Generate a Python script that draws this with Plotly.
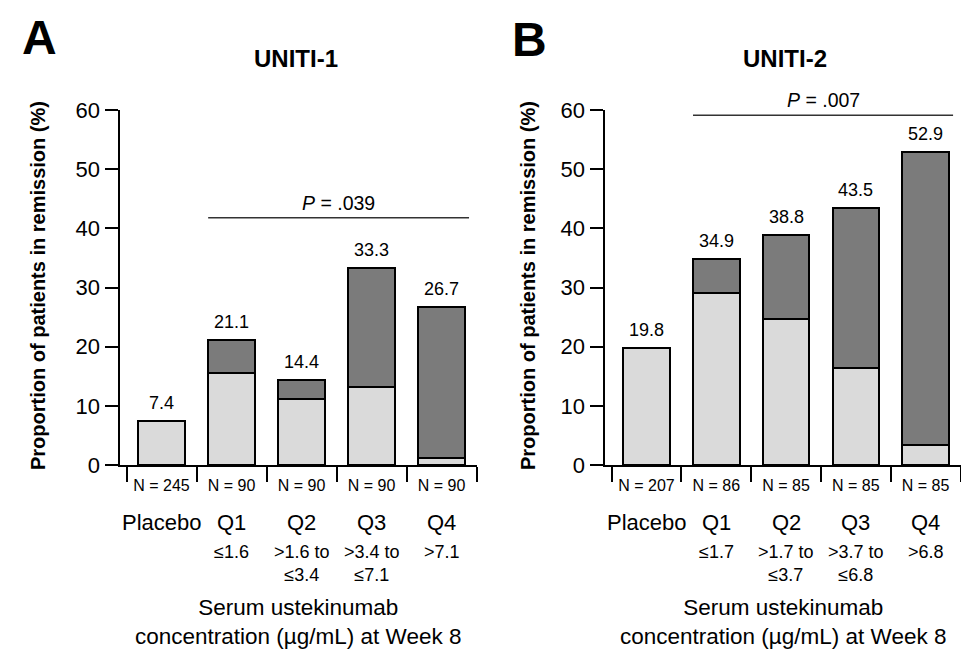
import plotly.graph_objects as go

# ---------------- data ----------------
categories = ["Placebo", "Q1", "Q2", "Q3", "Q4"]

# UNITI-1
a_totals = [7.4, 21.1, 14.4, 33.3, 26.7]
a_light = [7.4, 15.5, 11.1, 13.2, 1.1]
a_n = ["N = 245", "N = 90", "N = 90", "N = 90", "N = 90"]
a_ranges = ["", "≤1.6", ">1.6 to<br>≤3.4", ">3.4 to<br>≤7.1", ">7.1"]
a_p_text = "<i>P</i> = .039"
a_p_level = 41.8

# UNITI-2
b_totals = [19.8, 34.9, 38.8, 43.5, 52.9]
b_light = [19.8, 29.1, 24.7, 16.4, 3.4]
b_n = ["N = 207", "N = 86", "N = 85", "N = 85", "N = 85"]
b_ranges = ["", "≤1.7", ">1.7 to<br>≤3.7", ">3.7 to<br>≤6.8", ">6.8"]
b_p_text = "<i>P</i> = .007"
b_p_level = 59.1

y_ticks = [0, 10, 20, 30, 40, 50, 60]

# ---------------- style ----------------
OFF = 8                      # default page body margin
W, H = 969 - OFF, 653 - OFF  # figure size so it fills the window
FONT = "Liberation Sans, Arial, Helvetica, sans-serif"
LIGHT = "#dadada"
DARK = "#7b7b7b"
BAR_W = 0.667

def px_x(p):
    return (p - OFF) / W

def px_y(p):
    return 1 - (p - OFF) / H

fig = go.Figure()

panels = [
    dict(xa="x", ya="y", xname="xaxis", yname="yaxis", totals=a_totals, light=a_light,
         n=a_n, ranges=a_ranges, p=a_p_text, plev=a_p_level,
         dom=[px_x(119.5), px_x(476.5)], title="UNITI-1", tcx=296, letter="A", lcx=39, lcy=37,
         ytx=38),
    dict(xa="x2", ya="y2", xname="xaxis2", yname="yaxis2", totals=b_totals, light=b_light,
         n=b_n, ranges=b_ranges, p=b_p_text, plev=b_p_level,
         dom=[px_x(604.5), px_x(960.5)], title="UNITI-2", tcx=785, letter="B", lcx=529, lcy=39,
         ytx=528),
]

ydom = [px_y(465), px_y(110)]

annotations = []
shapes = []

def txt(size):
    return dict(size=size, color="black", family=FONT)

for pn in panels:
    dark = [None if t - l <= 0.05 else round(t - l, 2) for t, l in zip(pn["totals"], pn["light"])]
    fig.add_trace(go.Bar(
        x=categories, y=pn["light"], xaxis=pn["xa"], yaxis=pn["ya"], width=BAR_W,
        marker=dict(color=LIGHT, line=dict(color="black", width=2)),
        showlegend=False, hoverinfo="skip"))
    fig.add_trace(go.Bar(
        x=categories, y=dark, xaxis=pn["xa"], yaxis=pn["ya"], width=BAR_W,
        marker=dict(color=DARK, line=dict(color="black", width=2)),
        showlegend=False, hoverinfo="skip"))

    fig.update_layout(**{
        pn["xname"]: dict(
            domain=pn["dom"], anchor=pn["ya"], type="category",
            categoryorder="array", categoryarray=categories,
            tickmode="array", tickvals=categories, ticktext=pn["n"],
            tickson="boundaries", ticks="outside", ticklen=15, tickwidth=2,
            tickcolor="black", showline=True, linecolor="black", linewidth=2,
            tickfont=txt(16), automargin=False, ticklabelstandoff=5,
            showgrid=False, zeroline=False, fixedrange=True),
        pn["yname"]: dict(
            domain=ydom, anchor=pn["xa"], range=[0, 60],
            tickmode="array", tickvals=y_ticks,
            ticks="outside", ticklen=13, tickwidth=2, tickcolor="black",
            showline=True, linecolor="black", linewidth=2,
            tickfont=txt(22), automargin=False,
            showgrid=False, zeroline=False, fixedrange=True),
    })

    # value labels
    for c, t in zip(categories, pn["totals"]):
        annotations.append(dict(x=c, y=t, xref=pn["xa"], yref=pn["ya"], text=f"{t:.1f}",
                                showarrow=False, xanchor="center", yanchor="middle", yshift=18,
                                font=txt(18)))
    # category names and ranges
    for i, c in enumerate(categories):
        annotations.append(dict(x=c, y=px_y(522), xref=pn["xa"], yref="paper", text=c,
                                showarrow=False, xanchor="center", yanchor="middle",
                                font=txt(22)))
        if pn["ranges"][i]:
            annotations.append(dict(x=c, y=px_y(540), xref=pn["xa"], yref="paper",
                                    text=pn["ranges"][i], showarrow=False,
                                    xanchor="center", yanchor="top", font=txt(18)))
    # x-axis title
    annotations.append(dict(x=0.5, y=px_y(622), xref=pn["xa"] + " domain", yref="paper",
                            text="Serum ustekinumab<br>concentration (µg/mL) at Week 8",
                            showarrow=False, xanchor="center", yanchor="middle",
                            font=txt(22.5)))
    # y-axis title
    annotations.append(dict(x=px_x(pn["ytx"]), y=px_y(286), xref="paper", yref="paper",
                            text="<b>Proportion of patients in remission (%)</b>",
                            textangle=-90, showarrow=False, xanchor="center", yanchor="middle",
                            font=txt(20)))
    # titles
    annotations.append(dict(x=px_x(pn["tcx"]), y=px_y(59), xref="paper", yref="paper",
                            text=f"<b>{pn['title']}</b>", showarrow=False,
                            xanchor="center", yanchor="middle", font=txt(24)))
    annotations.append(dict(x=px_x(pn["lcx"]), y=px_y(pn["lcy"]), xref="paper", yref="paper",
                            text=f"<b>{pn['letter']}</b>", showarrow=False,
                            xanchor="center", yanchor="middle", font=txt(48)))
    # P-value bracket
    x0 = 1 - BAR_W / 2
    x1 = 4 + BAR_W / 2 + 0.06
    shapes.append(dict(type="line", xref=pn["xa"], yref=pn["ya"],
                       x0=x0, x1=x1, y0=pn["plev"], y1=pn["plev"],
                       line=dict(color="#333333", width=1.6)))
    annotations.append(dict(x=(x0 + x1) / 2, y=pn["plev"],
                            xref=pn["xa"], yref=pn["ya"], text=pn["p"], showarrow=False,
                            xanchor="center", yanchor="middle", yshift=15, font=txt(19.5)))

fig.update_layout(
    template="none",
    width=W, height=H, margin=dict(l=0, r=0, t=0, b=0, pad=0, autoexpand=False),
    paper_bgcolor="white", plot_bgcolor="white",
    barmode="stack", bargap=0.333,
    font=dict(family=FONT, color="black"),
    annotations=annotations, shapes=shapes, showlegend=False,
)

fig.write_html("out.html")
